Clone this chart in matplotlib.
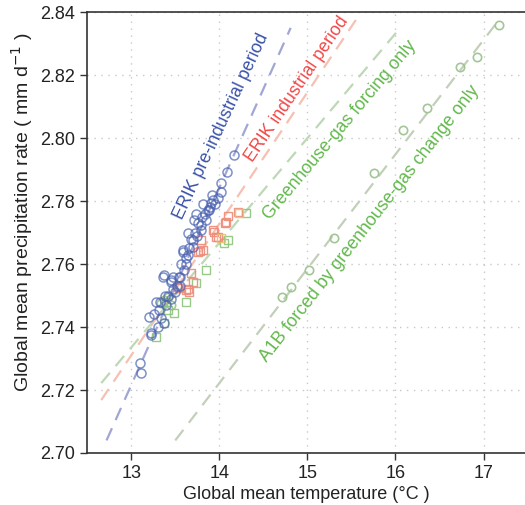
import matplotlib.pyplot as plt

plt.rcParams['font.family'] = ['Liberation Sans', 'DejaVu Sans']

# ERIK pre-industrial period (blue circles)
pre_t = [13.10, 13.11, 13.22, 13.23, 13.20, 13.37, 13.32, 13.34, 13.28, 13.36,
         13.45, 13.54, 13.37, 13.45, 13.59, 13.65, 13.70, 13.59, 13.71, 13.79,
         13.87, 13.91, 13.70, 13.79, 13.76, 13.85, 13.88, 13.93, 14.02, 14.02,
         14.09, 14.17, 13.42, 13.48, 13.50, 13.40, 13.45, 13.52, 13.55, 13.60,
         13.62, 13.66, 13.68, 13.72, 13.75, 13.80, 13.84, 13.90, 13.95, 13.98,
         13.62, 13.55, 13.30, 13.26, 13.33, 13.38, 13.48, 13.56, 13.64, 13.74,
         13.82, 13.92]
pre_p = [2.7286, 2.7254, 2.7375, 2.7380, 2.7432, 2.7413, 2.7454, 2.7429, 2.7479, 2.7559,
         2.7549, 2.7559, 2.7565, 2.7543, 2.7644, 2.7629, 2.7654, 2.7638, 2.7740, 2.7724,
         2.7771, 2.7794, 2.7676, 2.7708, 2.7730, 2.7740, 2.7771, 2.7803, 2.7829, 2.7857,
         2.7892, 2.7946, 2.7500, 2.7520, 2.7510, 2.7470, 2.7490, 2.7530, 2.7560, 2.7580,
         2.7600, 2.7650, 2.7680, 2.7700, 2.7690, 2.7750, 2.7760, 2.7780, 2.7790, 2.7810,
         2.7620, 2.7530, 2.7400, 2.7440, 2.7480, 2.7500, 2.7560, 2.7600, 2.7700, 2.7760,
         2.7790, 2.7820]

# ERIK industrial period (red squares)
ind_t = [13.52, 13.54, 13.62, 13.65, 13.66, 13.68, 13.70, 13.76, 13.78, 13.79,
         13.82, 13.93, 13.94, 13.96, 13.99, 14.06, 14.08, 14.10, 14.21]
ind_p = [2.7527, 2.7524, 2.7517, 2.7521, 2.7511, 2.7571, 2.7543, 2.7638, 2.7642, 2.7676,
         2.7644, 2.7708, 2.7702, 2.7686, 2.7686, 2.7730, 2.7733, 2.7752, 2.7765]
ind_late_t = [14.02, 14.22]
ind_late_p = [2.7683, 2.7762]

# greenhouse-gas forcing only (green squares)
ghg_t = [13.28, 13.37, 13.40, 13.42, 13.49, 13.62, 13.74, 13.85, 14.05, 14.10, 14.30]
ghg_p = [2.7368, 2.7413, 2.7479, 2.7454, 2.7444, 2.7479, 2.7540, 2.7581, 2.7667, 2.7676, 2.7762]

# A1B forced by greenhouse-gas change only (green circles)
a1b_t = [13.34, 13.37, 13.42, 13.45, 14.71, 14.81, 15.02, 15.30, 15.76, 16.08,
         16.36, 16.73, 16.93, 17.17]
a1b_p = [2.7476, 2.7486, 2.7495, 2.7470, 2.7495, 2.7527, 2.7581, 2.7683, 2.7889, 2.8025,
         2.8095, 2.8225, 2.8257, 2.8359]

# fitted lines (start / end)
fit_pre = ([12.72, 14.81], [2.704, 2.835])
fit_ind = ([12.66, 15.55], [2.7168, 2.8375])
fit_ghg = ([12.66, 16.06], [2.7222, 2.8352])
fit_a1b = ([13.50, 17.16], [2.704, 2.837])

blue = '#3a52a8'
red = '#f04848'
green = '#62b84c'

fig = plt.figure(figsize=(5.25, 5.05), dpi=100)
ax = fig.add_axes([0.166, 0.103, 0.834, 0.873])

dash = (6, 4)
ax.plot(*fit_pre, color='#a2a6d4', lw=1.6, dashes=dash, zorder=2)
ax.plot(*fit_ind, color='#f6c0b2', lw=1.6, dashes=dash, zorder=2)
ax.plot(*fit_ghg, color='#bed8b6', lw=1.6, dashes=dash, zorder=2)
ax.plot(*fit_a1b, color='#c2d0ba', lw=1.6, dashes=dash, zorder=2)

ax.plot(ghg_t, ghg_p, 's', ms=6, mfc='none', mec='#8cc47a', mew=1.0, alpha=0.9, zorder=3)
ax.plot(ind_t, ind_p, 's', ms=6, mfc='none', mec='#ee8a78', mew=1.0, alpha=0.9, zorder=3)
ax.plot(ind_late_t, ind_late_p, 's', ms=6, mfc='none', mec='#e8c070', mew=1.0, alpha=0.9, zorder=3)
ax.plot(a1b_t, a1b_p, 'o', ms=6, mfc='none', mec='#98c08a', mew=1.2, alpha=0.9, zorder=3)
ax.plot(pre_t, pre_p, 'o', ms=6.5, mfc='none', mec='#4a62b0', mew=1.1, alpha=0.7, zorder=4)

fs = 12.8
ax.text(14.02, 2.8037, 'ERIK pre-industrial period', color=blue, fontsize=fs,
        rotation=65, ha='center', va='center', rotation_mode='anchor')
ax.text(14.88, 2.8157, 'ERIK industrial period', color=red, fontsize=fs,
        rotation=56, ha='center', va='center', rotation_mode='anchor')
ax.text(15.37, 2.8025, 'Greenhouse-gas forcing only', color=green, fontsize=fs,
        rotation=50, ha='center', va='center', rotation_mode='anchor')
ax.text(15.71, 2.7728, 'A1B forced by greenhouse-gas change only', color=green, fontsize=fs,
        rotation=52, ha='center', va='center', rotation_mode='anchor')

ax.set_xlim(12.5, 17.47)
ax.set_ylim(2.70, 2.84)
ax.set_xticks([13, 14, 15, 16, 17])
ax.set_yticks([2.70, 2.72, 2.74, 2.76, 2.78, 2.80, 2.82, 2.84])
ax.set_yticklabels(['2.70', '2.72', '2.74', '2.76', '2.78', '2.80', '2.82', '2.84'])
ax.grid(True, color='#c8c8c8', ls=(0, (1, 4)), lw=1.0)
ax.set_axisbelow(True)
ax.tick_params(direction='out', length=5, width=1, colors='#333333', labelsize=13,
               labelcolor='#222222')
for s in ['left', 'bottom', 'top']:
    ax.spines[s].set_color('#333333')
    ax.spines[s].set_linewidth(1.2)
ax.spines['right'].set_visible(False)

ax.set_xlabel('Global mean temperature (°C )', fontsize=13, color='#222222', labelpad=3)
ax.set_ylabel('Global mean precipitation rate ( mm d$^{-1}$ )', fontsize=14,
              color='#222222')
ax.yaxis.set_label_coords(-0.12, 0.546)

fig.savefig('out.png', dpi=100)
